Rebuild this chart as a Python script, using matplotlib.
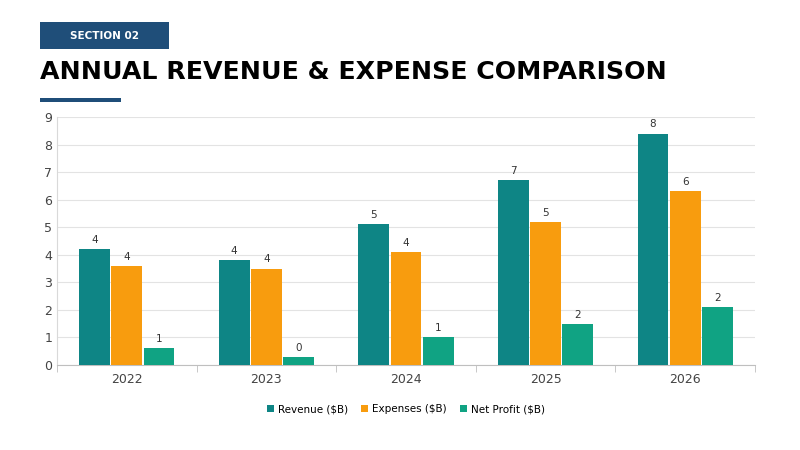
import matplotlib.pyplot as plt
import numpy as np
from matplotlib.patches import Rectangle

years = ['2022', '2023', '2024', '2025', '2026']
revenue = [4.2, 3.8, 5.1, 6.7, 8.4]
expenses = [3.6, 3.5, 4.1, 5.2, 6.3]
net_profit = [0.6, 0.3, 1.0, 1.5, 2.1]

series = [('Revenue ($B)', revenue, '#0e8585'),
          ('Expenses ($B)', expenses, '#f89c0e'),
          ('Net Profit ($B)', net_profit, '#10a383')]

fig = plt.figure(figsize=(8, 4.5), dpi=100)
fig.patch.set_facecolor('white')

# header
fig.patches.append(Rectangle((40/800, 1-49/450), 129/800, 27/450, transform=fig.transFigure,
                             facecolor='#1f4e79', edgecolor='none'))
fig.text(104/800, 1-36/450, 'SECTION 02', color='white', fontsize=7.5, fontweight='bold',
         ha='center', va='center')
fig.text(40/800, 1-72/450, 'ANNUAL REVENUE & EXPENSE COMPARISON', fontsize=18.2,
         fontweight='heavy', ha='left', va='center', color='black')
fig.patches.append(Rectangle((40/800, 1-102/450), 81/800, 4/450, transform=fig.transFigure,
                             facecolor='#1f4e79', edgecolor='none'))

ax = fig.add_axes([57/800, 85/450, 698/800, 248/450])
x = np.arange(len(years))
w = 0.22
for i, (name, vals, col) in enumerate(series):
    pos = x + (i - 1) * w * 1.05
    bars = ax.bar(pos, vals, w, color=col, label=name, zorder=3)
    for b, v in zip(bars, vals):
        ax.text(b.get_x() + b.get_width()/2, v + 0.15, str(int(np.floor(v + 0.5))),
                ha='center', va='bottom', fontsize=7.5, color='#333333')

ax.set_ylim(0, 9)
ax.set_yticks(range(10))
ax.set_xlim(-0.5, len(years) - 0.5)
ax.set_xticks(x)
ax.set_xticklabels(years)
ax.set_xticks(np.arange(-0.5, len(years)), minor=True)
ax.tick_params(axis='x', which='major', length=0, labelsize=9, colors='#444444', pad=6)
ax.tick_params(axis='x', which='minor', length=5, color='#bfbfbf')
ax.tick_params(axis='y', length=0, labelsize=9, colors='#444444')
ax.grid(axis='y', color='#e3e3e3', linewidth=0.8, zorder=0)
for s in ['top', 'right']:
    ax.spines[s].set_visible(False)
ax.spines['left'].set_color('#d9d9d9')
ax.spines['bottom'].set_color('#bfbfbf')

ax.legend(loc='upper center', bbox_to_anchor=(0.5, -0.12), ncol=3, frameon=False,
          fontsize=7.5, handlelength=0.7, handleheight=0.7, columnspacing=1.2, handletextpad=0.4)

fig.savefig('out.png', dpi=100)
